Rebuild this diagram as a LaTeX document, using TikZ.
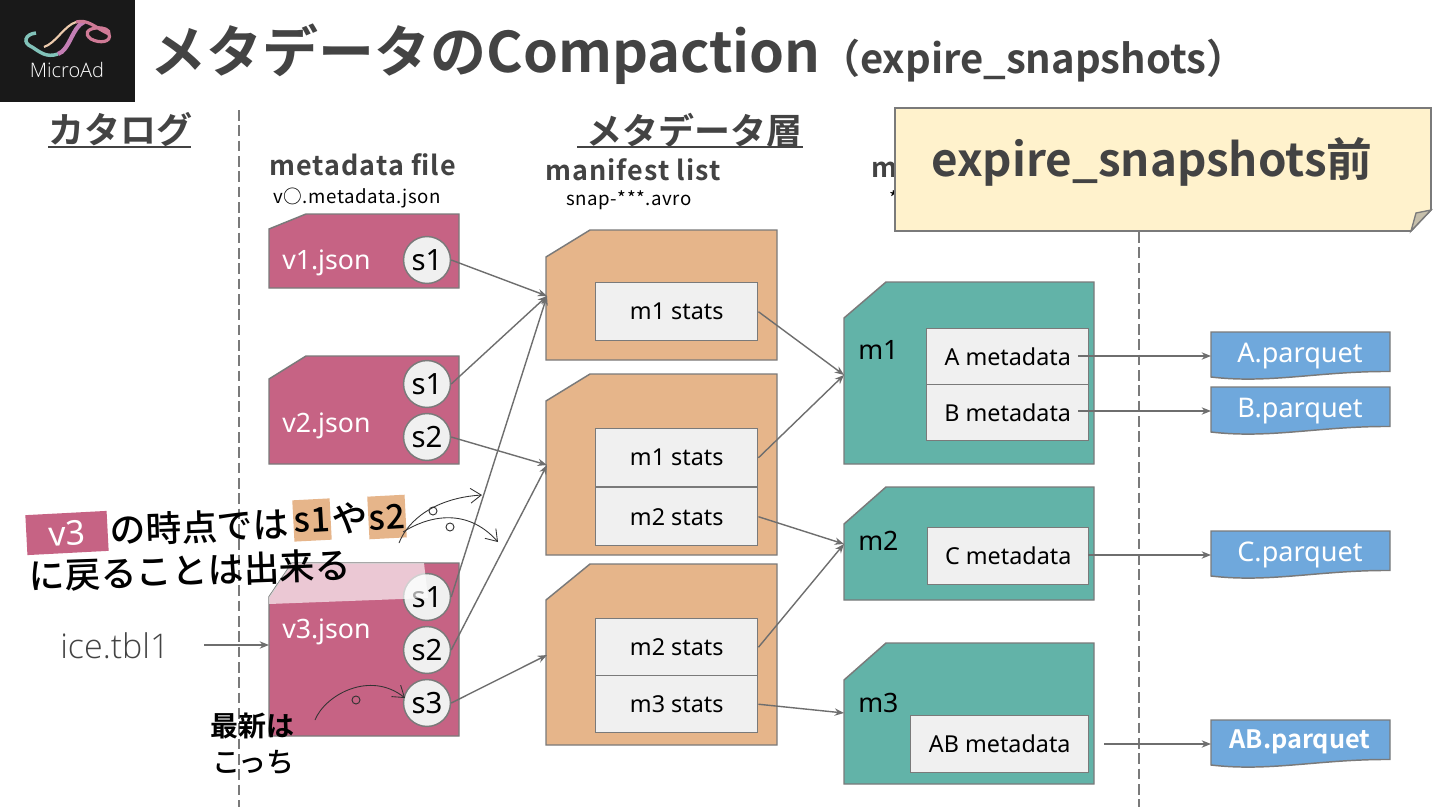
\documentclass[tikz,border=0pt]{standalone}
\usepackage{fontspec}
\usetikzlibrary{arrows.meta}
\setmainfont{Noto Sans}
\newfontfamily\jp{Noto Sans CJK JP}[BoldFont={Noto Sans CJK JP Bold}]
\newfontfamily\jpm{Noto Sans CJK JP Medium}
\newfontfamily\jpsp{Noto Sans CJK JP Bold}[LetterSpace=4]
\newfontfamily\jpsm{Noto Sans CJK JP}[LetterSpace=3]
\newfontfamily\lightf{Open Sans Light}
\definecolor{txt}{HTML}{434343}
\definecolor{pinkc}{HTML}{C66384}
\definecolor{orangec}{HTML}{E6B58A}
\definecolor{greenc}{HTML}{62B3A8}
\definecolor{bluec}{HTML}{6FA8DC}
\definecolor{innerc}{HTML}{F0F0F0}
\definecolor{edgec}{HTML}{7A7A7A}
\definecolor{stickyc}{HTML}{FFF2CC}
\newcommand{\fsz}[1]{\fontsize{#1}{#1}\selectfont}
\tikzset{
  x=0.75pt,y=-0.75pt,
  doc/.style={draw=edgec,line width=1.1pt,line join=miter},
  inner box/.style={draw=edgec,line width=1.1pt,fill=innerc,rectangle,anchor=north west,inner sep=0pt,text=black},
  snapc/.style={circle,draw=edgec,line width=1.1pt,fill=innerc,minimum size=35.2pt,inner sep=0pt,text=black,font=\fsz{22}},
  conn/.style={draw=edgec!90!black,line width=1.05pt,-{Stealth[length=7pt,width=5.5pt]}},
  hand/.style={draw=black!80,line width=0.65pt,-{Straight Barb[length=8pt,width=11pt]}},
  loopc/.style={draw=black!80,line width=0.7pt,circle,minimum size=6pt,inner sep=0pt},
  doclabel/.style={anchor=west,text=white,inner sep=0pt,font=\fsz{20}},
  mlabel/.style={anchor=west,text=black,inner sep=0pt,font=\fsz{20}},
  hdr/.style={anchor=west,inner sep=0pt,text=txt,font=\jp\bfseries\fsz{27}},
  sub/.style={anchor=west,inner sep=0pt,text=txt,font=\jpsp\fsz{20.2}},
  smallh/.style={anchor=west,inner sep=0pt,text=black,font=\jpsm\fsz{14}},
  scrib/.style={inner sep=0pt,text=black,rotate=2,font=\jpm\fsz{26.8}},
  hilite/.style={fill=orangec,rotate=3,inner sep=0pt,text=black,font=\jpm\fsz{25.5}},
  filetag/.style={inner sep=0pt,text=white,font=\fsz{20.3}},
}
\newcommand{\snipped}[7]{% fill x1 y1 x2 y2 cutx cuty
  \path[doc,fill=#1] (#2,#3+#7) -- (#2+#6,#3) -- (#4,#3) -- (#4,#5) -- (#2,#5) -- cycle;
}
\newcommand{\datafile}[2]{% y1 name
  \path[draw=edgec,line width=1.1pt,fill=bluec] (1211,#1) -- (1390,#1) -- (1390,#1+39.5) .. controls (1320,#1+39) and (1270,#1+52) .. (1211,#1+45) -- cycle;
}
\begin{document}
\begin{tikzpicture}
\useasboundingbox (0,0) rectangle (1440,810);
\fill[white] (0,0) rectangle (1440,810);
% logo
\fill[black!90] (0,0) rectangle (135,102);
\draw[line width=2.6pt,color=greenc!80!white] (36,33) .. controls (25,34) and (22,43) .. (32,47) .. controls (40,52) and (46,58) .. (58,54);
\draw[line width=3.2pt,color=pinkc!40!violet!60!white] (58,54) .. controls (70,50) and (72,27) .. (84,22);
\draw[line width=1.6pt,color=orangec!70!white] (44,47) .. controls (56,43) and (64,26) .. (76,22);
\draw[line width=2.4pt,color=pinkc!85!white] (76,22) .. controls (88,19) and (94,27) .. (109,34) .. controls (112,42) and (100,44) .. (91,39) .. controls (84,34) and (87,29) .. (96,28) .. controls (104,27) and (110,30) .. (109,34);
\node[text=white,inner sep=0pt,font=\lightf\fsz{15}] (logotext) at (67,69.5) {MicroAd};
% title
\node[anchor=west,inner sep=0pt,text=txt,font=\jp\bfseries\fsz{42}] (title) at (150,54) {メタデータのCompaction};
\node[anchor=west,inner sep=0pt,text=txt,font=\jp\bfseries\fsz{30}] (subtitle) at (820,61) {（expire\_snapshots）};
% headers
\node[hdr] (cat) at (48,130) {カタログ};
\draw[txt,line width=1.4pt] (48,147) -- (191,147);
\node[hdr] (meta) at (586,130) {メタデータ層};
\draw[txt,line width=1.4pt] (577,147) -- (803,147);
\node[sub] (mf) at (269,165) {metadata file};
\node[sub] (ml) at (545,170) {manifest list};
\node[sub] (mn) at (871,170) {m};
\node[smallh] (mfs) at (273,198) {v○.metadata.json};
\node[smallh] (mls) at (566,200) {snap-***.avro};
\node[smallh] (mns) at (889,198) {*};
% dashed
\coordinate (da) at (239,110); \coordinate (db) at (239,807);
\coordinate (dc) at (1139,232); \coordinate (dd) at (1139,807);
\draw[edgec,line width=1pt,dash pattern=on 8pt off 3.5pt] (da) -- (db);
\draw[edgec,line width=1pt,dash pattern=on 8pt off 3.5pt] (dc) -- (dd);
% metadata files
\snipped{pinkc}{269}{214}{459}{288}{37}{15}
\node[doclabel] (v1) at (282,263) {v1.json};
\snipped{pinkc}{269}{356}{459}{464}{37}{23}
\node[doclabel] (v2) at (282,426) {v2.json};
\snipped{pinkc}{269}{563}{459}{736}{23}{34}
\node[doclabel] (v3) at (282,632) {v3.json};
\node[snapc] (a1) at (427,260) {s1};
\node[snapc] (b1) at (427,384) {s1};
\node[snapc] (b2) at (427,437) {s2};
\node[snapc] (c1) at (427,597) {s1};
\node[snapc] (c2) at (427,650) {s2};
\node[snapc] (c3) at (427,703) {s3};
% manifest lists
\snipped{orangec}{546}{230}{777}{360}{44}{27}
\snipped{orangec}{546}{374}{777}{555}{44}{27}
\snipped{orangec}{546}{564}{777}{745}{44}{36}
\newcommand{\ibox}[6]{\node[inner box,minimum width=#4*0.75pt,minimum height=#5*0.75pt] (#1) at (#2,#3) {\fsz{17.5}#6};}
\ibox{p1}{595}{282}{162}{58}{m1 stats}
\ibox{p2}{595}{428}{162}{58}{m1 stats}
\ibox{p3}{595}{487}{162}{58}{m2 stats}
\ibox{p4}{595}{618}{162}{57}{m2 stats}
\ibox{p5}{595}{675}{162}{57}{m3 stats}
% manifest files
\snipped{greenc}{844}{282}{1094}{464}{42}{36}
\snipped{greenc}{844}{487}{1094}{600}{42}{37}
\snipped{greenc}{844}{643}{1094}{784}{42}{37}
\node[mlabel] (m1) at (858,350) {m1};
\node[mlabel] (m2) at (858,541) {m2};
\node[mlabel] (m3) at (858,703) {m3};
\ibox{q1}{926}{328}{162}{56}{A metadata}
\ibox{q2}{926}{384}{162}{56}{B metadata}
\ibox{q3}{927}{527}{161}{57}{C metadata}
\ibox{q4}{910}{715}{178}{57}{AB metadata}
% data files
\datafile{332}{}
\datafile{387}{}
\datafile{531}{}
\datafile{720}{}
\node[filetag] (fa) at (1300,356) {A.parquet};
\node[filetag] (fb) at (1300,411) {B.parquet};
\node[filetag] (fc) at (1300,555) {C.parquet};
\node[filetag,font=\jp\bfseries\fsz{19}] (fd) at (1300,742) {AB.parquet};
% anchor points of the connectors
\coordinate (ml1) at (547,296);
\coordinate (ml2) at (547,465);
\coordinate (ml3) at (547,655);
\coordinate (mn1) at (844,375);
\coordinate (mn2) at (844,544);
\coordinate (mn3) at (844,713);
\coordinate (qa) at (1078,356); \coordinate (ta) at (1211,356);
\coordinate (qb) at (1078,411); \coordinate (tb) at (1211,411);
\coordinate (qc) at (1088,555); \coordinate (tc) at (1211,555);
\coordinate (qd) at (1104,744); \coordinate (td) at (1211,744);
\draw[conn] (a1.east) -- (ml1);
\draw[conn] (b1.east) -- (ml1);
\draw[conn] (b2.east) -- (ml2);
\draw[conn] (c1.east) -- (ml1);
\draw[conn] (c2.east) -- (ml2);
\draw[conn] (c3.east) -- (ml3);
\draw[conn] (p1.east) -- (mn1);
\draw[conn] (p2.east) -- (mn1);
\draw[conn] (p3.east) -- (mn2);
\draw[conn] (p4.east) -- (mn2);
\draw[conn] (p5.east) -- (mn3);
\draw[conn] (qa) -- (ta);
\draw[conn] (qb) -- (tb);
\draw[conn] (qc) -- (tc);
\draw[conn] (qd) -- (td);
% ice table
\node[anchor=west,inner sep=0pt,text=txt,font=\lightf\fsz{25.5}] (ice) at (60,646) {ice.tbl1};
\coordinate (icet) at (269,645);
\coordinate (ices) at (204,645);
\draw[conn] (ices) -- (icet);
% white veil
\fill[white,opacity=0.65] (292,563) -- (424,563) -- (428,598) -- (269,604) -- (269,597) -- cycle;
% scribbles
\node[fill=pinkc,rotate=3,minimum width=61pt,minimum height=30pt,inner sep=0pt,text=white,font=\fsz{25.5}] (hv) at (67,533) {v3};
\node[scrib,anchor=west] (ht) at (110,530) {の時点では};
\node[hilite,minimum width=28pt,minimum height=31pt] (hs1) at (312,520) {s1};
\node[scrib] (hy) at (350,518) {や};
\node[hilite,minimum width=28pt,minimum height=32pt] (hs2) at (387,517) {s2};
\node[scrib,anchor=west] (hl) at (29,576) {に戻ることは出来る};
\node[anchor=west,inner sep=0pt,text=black,font=\jp\bfseries\fsz{21}] (n1) at (210,726) {最新は};
\node[anchor=west,inner sep=0pt,text=black,font=\jpm\fsz{21}] (n2) at (212,762) {こっち};
\coordinate (h1a) at (399,543); \coordinate (h1b) at (482,495);
\coordinate (h2a) at (403,532); \coordinate (h2b) at (498,542);
\coordinate (h3a) at (315,720); \coordinate (h3b) at (405,698);
\draw[hand] (h1a) .. controls (408,520) and (435,498) .. (h1b);
\draw[hand] (h2a) .. controls (425,518) and (465,505) .. (h2b);
\draw[hand] (h3a) .. controls (325,695) and (370,670) .. (h3b);
\node[loopc] (l1) at (433,511) {};
\node[loopc] (l2) at (450,527) {};
\node[loopc] (l3) at (356,700) {};
% sticky
\path[draw=edgec,line width=1.2pt,fill=stickyc] (895,108) -- (1431,108) -- (1431,210) -- (1411,231) -- (895,231) -- cycle;
\path[draw=edgec,line width=1pt,fill=stickyc!70!black!75!white] (1411,231) -- (1416,213) -- (1431,210) -- cycle;
\node[anchor=west,inner sep=0pt,text=txt,font=\jp\bfseries\fsz{34.3}] (st) at (931,162) {expire\_snapshots前};
\end{tikzpicture}
\end{document}
